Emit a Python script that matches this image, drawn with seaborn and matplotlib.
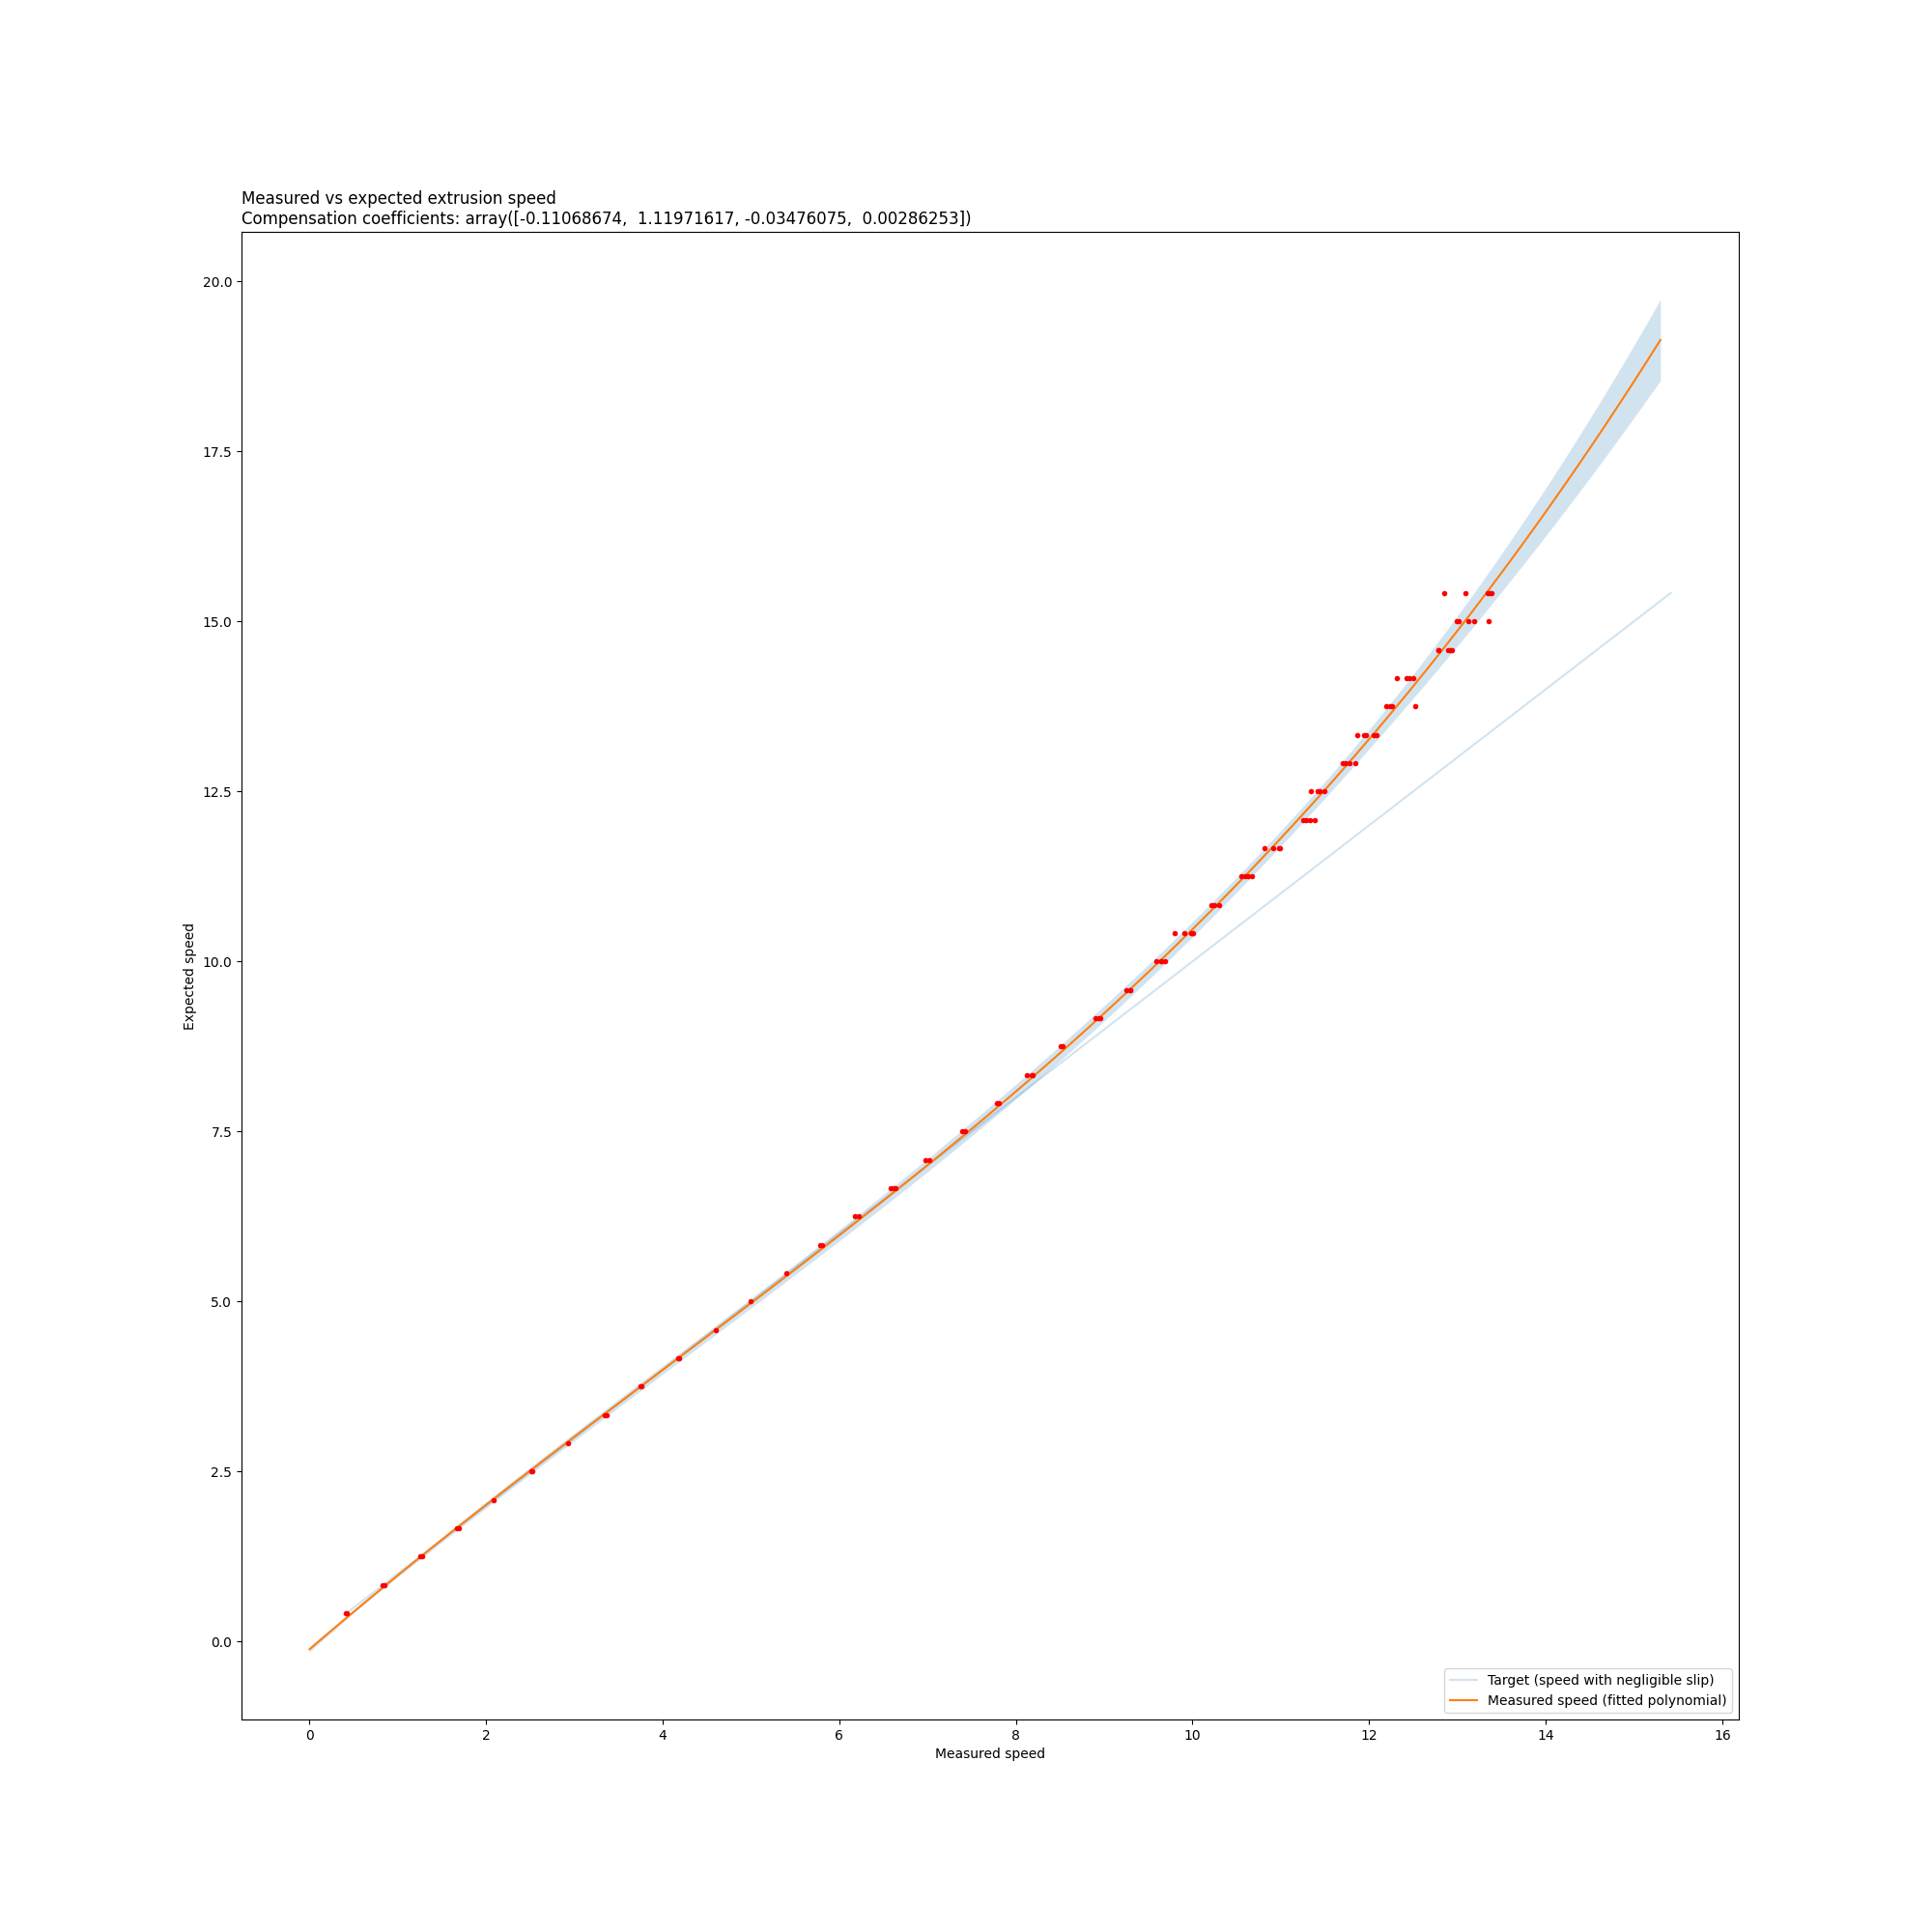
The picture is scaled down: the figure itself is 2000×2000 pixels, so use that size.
import numpy as np
import pandas as pd
import matplotlib
matplotlib.use("Agg")
import matplotlib.pyplot as plt
import seaborn as sns

# Expected speed levels (target)
levels = [0.417, 0.833, 1.25, 1.667, 2.083, 2.5, 2.917, 3.333, 3.75, 4.167,
          4.583, 5.0, 5.417, 5.833, 6.25, 6.667, 7.083, 7.5, 7.917, 8.333,
          8.75, 9.167, 9.583, 10.0, 10.417, 10.833, 11.25, 11.667, 12.083, 12.5,
          12.917, 13.333, 13.75, 14.167, 14.583, 15.0, 15.417]

# Measured speeds observed for each expected level
measured_groups = [
    [0.41, 0.42], [0.83, 0.85], [1.25, 1.27], [1.67, 1.69], [2.09],
    [2.51, 2.52], [2.93], [3.34, 3.36], [3.75, 3.76], [4.17, 4.19],
    [4.60], [5.00], [5.40], [5.78, 5.81], [6.18, 6.22],
    [6.58, 6.61, 6.64], [6.98, 7.02], [7.39, 7.42], [7.78, 7.81],
    [8.12, 8.18, 8.19], [8.51, 8.53], [8.90, 8.93, 8.96],
    [9.25, 9.29, 9.30], [9.59, 9.64, 9.65, 9.69],
    [9.80, 9.91, 9.98, 9.99, 10.01], [10.21, 10.25, 10.30],
    [10.55, 10.60, 10.63, 10.67], [10.82, 10.91, 10.98, 10.99],
    [11.25, 11.29, 11.33, 11.38], [11.34, 11.42, 11.44, 11.49],
    [11.70, 11.74, 11.78, 11.84], [11.87, 11.94, 11.96, 12.05, 12.09],
    [12.19, 12.24, 12.26, 12.52], [12.31, 12.42, 12.46, 12.50],
    [12.78, 12.79, 12.90, 12.92, 12.94], [12.99, 13.02, 13.12, 13.19, 13.35],
    [12.85, 13.09, 13.34, 13.37, 13.39],
]

# Compensation polynomial coefficients (increasing order)
coeffs = [-0.11068674, 1.11971617, -0.03476075, 0.00286253]
fit_x_max = 15.3
band_z = 6.6

measured = np.array([m for grp in measured_groups for m in grp])
expected = np.array([lv for lv, grp in zip(levels, measured_groups) for _ in grp])
points = pd.DataFrame({"measured": measured, "expected": expected})

grid = np.linspace(0, fit_x_max, 200)
fit = np.polyval(coeffs[::-1], grid)

# uncertainty band of a cubic fit with relative (proportional) errors
_, cov = np.polyfit(measured, expected, 3, w=1.0 / expected, cov=True)
G = np.vander(grid, 4)
se = np.sqrt(np.einsum("ij,jk,ik->i", G, cov, G))
lower, upper = fit - band_z * se, fit + band_z * se

fig, ax = plt.subplots(figsize=(20, 20), dpi=100)

sns.lineplot(x=levels, y=levels, color="C0", alpha=0.2,
             label="Target (speed with negligible slip)", ax=ax)

ax.fill_between(grid, lower, upper, color="C0", alpha=0.2, linewidth=0)

sns.lineplot(x=grid, y=fit, color="C1",
             label="Measured speed (fitted polynomial)", ax=ax)

sns.scatterplot(data=points, x="measured", y="expected", color="red",
                s=16, linewidth=0, ax=ax, zorder=3, legend=False)

for coll in ax.collections:
    coll.sticky_edges.x[:] = []
    coll.sticky_edges.y[:] = []
ax.autoscale_view()

ax.set_title("Measured vs expected extrusion speed\n"
             "Compensation coefficients: array([-0.11068674,  1.11971617, -0.03476075,  0.00286253])",
             loc="left")
ax.set_xlabel("Measured speed")
ax.set_ylabel("Expected speed")
ax.legend(loc="lower right")

fig.savefig("out.png", dpi=100)
